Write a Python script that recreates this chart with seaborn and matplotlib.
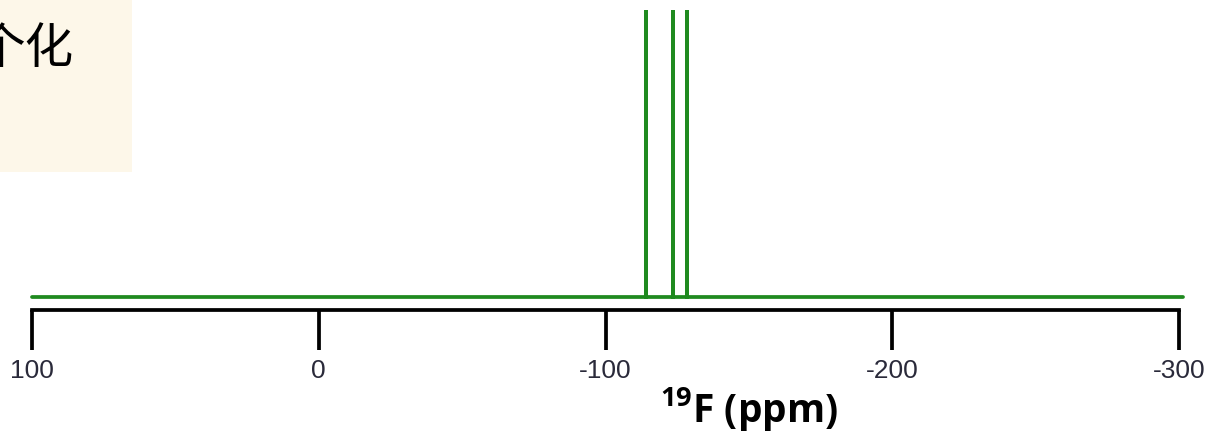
import numpy as np
import pandas as pd
import seaborn as sns
import matplotlib.pyplot as plt
from matplotlib.patches import Rectangle

sns.set_theme(style='white')
plt.rcParams['font.family'] = ['Noto Sans CJK SC', 'DejaVu Sans']
plt.rcParams['mathtext.fontset'] = 'custom'
plt.rcParams['mathtext.bf'] = 'Open Sans:bold'
plt.rcParams['mathtext.rm'] = 'Open Sans:bold'
plt.rcParams['mathtext.default'] = 'bf'

# data
peak_ppm = [-114.1, -123.5, -128.4]
peak_height = [1.0, 1.0, 1.0]
baseline_range = [100, -301.4]
tick_values = [100, 0, -100, -200, -300]
tick_labels = ['100', '0', '-100', '-200', '-300']
box_text = '个化'
xlabel = '$^{19}$F (ppm)'

GREEN = '#1f8a1f'

# stick spectrum trace
xs = [baseline_range[0]]
ys = [0.0]
for p, h in zip(peak_ppm, peak_height):
    xs += [p, p, p]
    ys += [0.0, h, 0.0]
xs.append(baseline_range[1])
ys.append(0.0)
df = pd.DataFrame({'ppm': xs, 'intensity': ys})

W, H = 1208, 433
fig = plt.figure(figsize=(W / 100, H / 100), dpi=100)
fig.patch.set_facecolor('white')
ax = fig.add_axes([0, 0, 1, 1])
ax.set_facecolor('none')

sns.lineplot(data=df, x='ppm', y='intensity', sort=False, estimator=None,
             color=GREEN, linewidth=2.7, ax=ax, solid_joinstyle='miter')
ax.set_ylabel('')

# px mapping: 100 -> 32px, -300 -> 1179px
ppx = (1179 - 32) / 400.0
ax.set_xlim(100 + 32 / ppx, 100 - (W - 32) / ppx)
upx = 297 - 10
ax.set_ylim(-(H - 297) / upx, 1 + 10 / upx)

for s in ['left', 'top', 'right']:
    ax.spines[s].set_visible(False)
ax.spines['bottom'].set_position(('data', -13 / upx))
ax.spines['bottom'].set_bounds(100, -300)
ax.spines['bottom'].set_linewidth(2.7)
ax.spines['bottom'].set_color('black')
ax.set_yticks([])
ax.set_xticks(tick_values)
ax.set_xticklabels(tick_labels, family=['Liberation Sans Narrow', 'Liberation Sans'],
                   fontsize=19, color='#2a2a3a')
ax.tick_params(axis='x', direction='out', length=29, width=2.7, color='black',
               pad=6, bottom=True)
ax.set_xlabel(xlabel, fontsize=28, fontweight='bold', color='black',
              family=['Open Sans', 'DejaVu Sans'])
ax.xaxis.set_label_coords(749 / W, 1 - 422 / H)
ax.xaxis.label.set_va('baseline')

# beige note box at top left
fig.add_artist(Rectangle((0, 1 - 172 / H), 132 / W, 172 / H,
                         transform=fig.transFigure, facecolor='#fdf7e9',
                         edgecolor='none', zorder=0))
fig.text(-24 / W, 1 - 49 / H, box_text, fontsize=35, va='center', ha='left',
         color='black', family=['Noto Sans CJK SC', 'DejaVu Sans'])

fig.savefig('out.png', dpi=100)
